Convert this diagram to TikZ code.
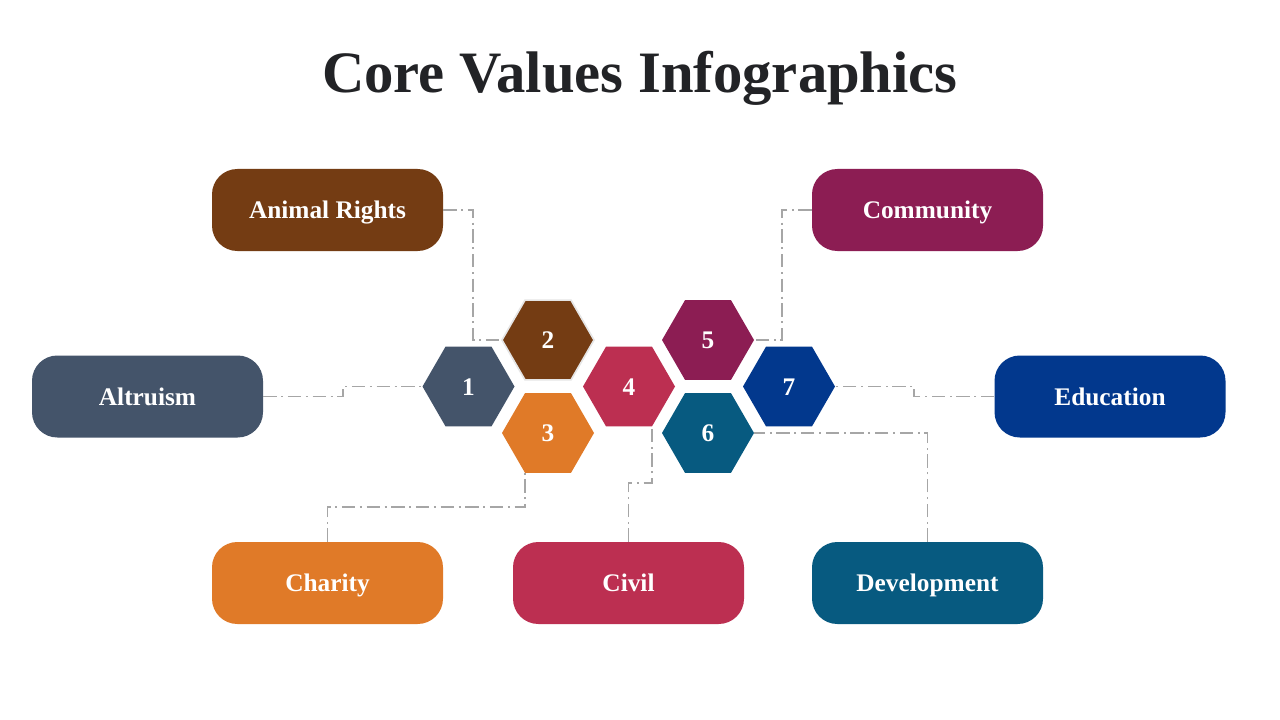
\documentclass[tikz,border=0pt]{standalone}
\usepackage{fontspec}
\setmainfont{Liberation Serif}
\usetikzlibrary{shapes.geometric}

\definecolor{valBrown}{HTML}{743C13}
\definecolor{valSlate}{HTML}{44546A}
\definecolor{valOrange}{HTML}{E07A28}
\definecolor{valCrimson}{HTML}{BC2F51}
\definecolor{valPlum}{HTML}{8C1D53}
\definecolor{valPetrol}{HTML}{075A80}
\definecolor{valNavy}{HTML}{02388D}
\definecolor{linkGray}{HTML}{A6A6A6}
\definecolor{titleInk}{HTML}{222326}

\begin{document}
\begin{tikzpicture}[x=0.75pt,y=-0.75pt,
  valbox/.style={rounded corners=19pt,minimum width=173.25pt,minimum height=61.5pt,
    inner sep=0pt,text=white,text height=16pt,text depth=3.2pt,
    font=\fontsize{19}{22}\selectfont\bfseries},
  hexa/.style={regular polygon,regular polygon sides=6,minimum size=69pt,
    inner sep=0pt,outer sep=0pt,text=white,text height=16pt,text depth=3.2pt,
    font=\fontsize{19}{22}\selectfont\bfseries},
  link/.style={draw=linkGray,line width=1.3pt,dash pattern=on 10pt off 3.5pt on 1.5pt off 3.5pt}]
\useasboundingbox[fill=white] (0,0) rectangle (1280,720);

\node[text=titleInk,font=\fontsize{44}{50}\selectfont\bfseries] (title) at (640,78) {Core Values Infographics};

\node[hexa,fill=valSlate] (h1) at (468.5,386.5) {1};
\node[hexa,fill=valBrown,draw=gray!20,line width=1.2pt] (h2) at (548,340) {2};
\node[hexa,fill=valOrange] (h3) at (548,433) {3};
\node[hexa,fill=valCrimson] (h4) at (629,386.5) {4};
\node[hexa,fill=valPlum] (h5) at (708,340) {5};
\node[hexa,fill=valPetrol] (h6) at (708,433) {6};
\node[hexa,fill=valNavy] (h7) at (789,386.5) {7};

\node[valbox,fill=valBrown] (ar) at (327.5,210) {Animal Rights};
\node[valbox,fill=valPlum] (cm) at (927.5,210) {Community};
\node[valbox,fill=valSlate] (al) at (147.5,396.5) {Altruism};
\node[valbox,fill=valNavy] (ed) at (1110,396.5) {Education};
\node[valbox,fill=valOrange] (ch) at (327.5,583) {Charity};
\node[valbox,fill=valCrimson] (cv) at (628.5,583) {Civil};
\node[valbox,fill=valPetrol] (dv) at (927.5,583) {Development};

\draw[link] (ar.east) -- ++(30,0) |- (h2.west);
\draw[link] (al.east) -- ++(80,0) |- (h1.west);
\draw[link] (ch.north) -- ++(0,-35) -| (h3.corner 4);
\draw[link] (cv.north) -- ++(0,-59) -| (h4.corner 5);
\draw[link] (dv.north) |- (h6.east);
\draw[link] (ed.west) -- ++(-80,0) |- (h7.east);
\draw[link] (cm.west) -- ++(-30,0) |- (h5.east);

\end{tikzpicture}
\end{document}
